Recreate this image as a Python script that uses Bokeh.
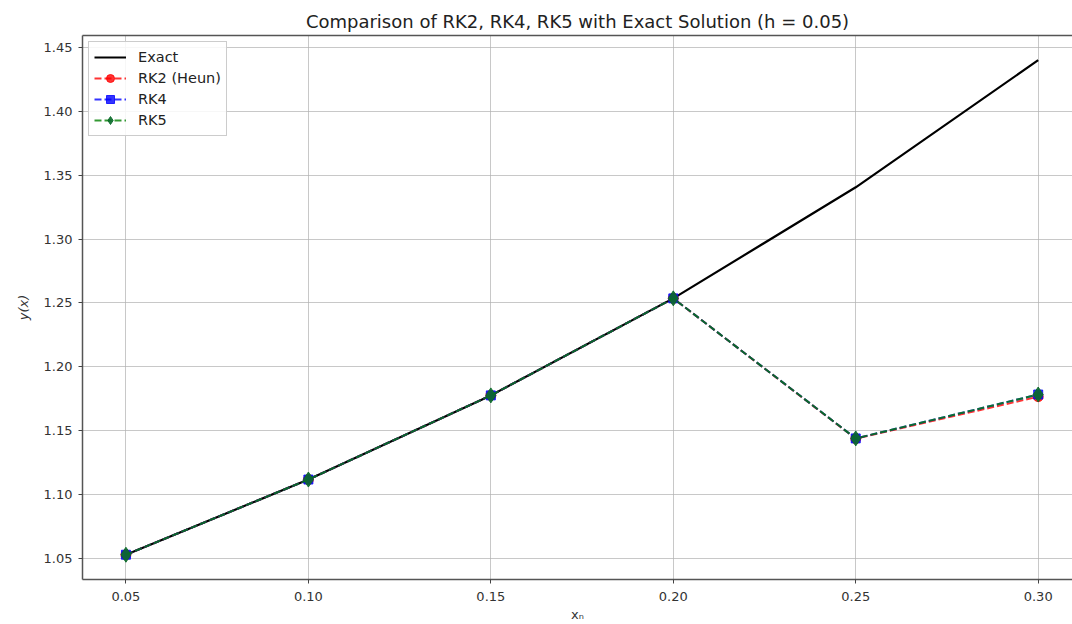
from bokeh.plotting import figure
from bokeh.models import Range1d, FixedTicker, NumeralTickFormatter, LinearAxis, Legend
from bokeh.embed import file_html
from bokeh.resources import INLINE

x_vals = [0.05, 0.10, 0.15, 0.20, 0.25, 0.30]
exact = [1.0527, 1.1116, 1.1775, 1.2535, 1.3405, 1.4401]
rk2 = [1.0527, 1.1116, 1.1775, 1.2535, 1.1436, 1.1765]
rk4 = [1.0527, 1.1116, 1.1775, 1.2535, 1.1438, 1.1782]
rk5 = [1.0527, 1.1116, 1.1775, 1.2535, 1.1438, 1.1782]
x_ticks = [0.05, 0.10, 0.15, 0.20, 0.25, 0.30]
y_ticks = [1.05, 1.10, 1.15, 1.20, 1.25, 1.30, 1.35, 1.40, 1.45]

FONT = "DejaVu Sans"

p = figure(width=1072, height=624, output_backend="svg", toolbar_location=None,
           x_range=Range1d(0.0381, 0.3094), y_range=Range1d(1.0333, 1.4594),
           min_border_left=82, min_border_right=0, min_border_top=35, min_border_bottom=45,
           title="Comparison of RK2, RK4, RK5 with Exact Solution (h = 0.05)")
p.outline_line_color = None
p.background_fill_color = "white"
p.border_fill_color = "white"

p.title.align = "center"
p.title.text_font = FONT
p.title.text_font_size = "18px"
p.title.text_font_style = "normal"
p.title.text_color = "#222222"
p.title.offset = 0
p.title.standoff = 8

for ax in (p.xaxis[0], p.yaxis[0]):
    ax.axis_line_color = "#555555"
    ax.axis_line_width = 1.5
    ax.major_tick_line_color = "#444444"
    ax.major_tick_in = 0
    ax.major_tick_out = 4
    ax.minor_tick_line_color = None
    ax.major_label_text_font = FONT
    ax.major_label_text_font_size = "13px"
    ax.major_label_text_color = "#333333"
    ax.axis_label_text_font = FONT
    ax.axis_label_text_font_size = "13px"
    ax.axis_label_text_font_style = "normal"
    ax.axis_label_text_color = "#333333"

p.xaxis.ticker = FixedTicker(ticks=x_ticks)
p.yaxis.ticker = FixedTicker(ticks=y_ticks)
p.xaxis.formatter = NumeralTickFormatter(format="0.00")
p.yaxis.formatter = NumeralTickFormatter(format="0.00")
p.xaxis.axis_label = "x\u2099"
p.yaxis.axis_label = "y(x)"
p.yaxis.axis_label_text_font_style = "italic"
p.xaxis.major_label_standoff = 8
p.yaxis.major_label_standoff = 6
p.xaxis.axis_label_standoff = 3
p.yaxis.axis_label_standoff = 10

top = LinearAxis(ticker=FixedTicker(ticks=[]), major_label_text_font_size="0px",
                 axis_line_color="#555555", axis_line_width=1.5,
                 major_tick_line_color=None, minor_tick_line_color=None)
p.add_layout(top, "above")

p.xgrid.grid_line_color = "#b0b0b0"
p.ygrid.grid_line_color = "#b0b0b0"
p.xgrid.grid_line_alpha = 0.7
p.ygrid.grid_line_alpha = 0.7

items = []
r0 = p.line(x_vals, exact, line_color="black", line_width=2.2)
items.append(("Exact", [r0]))

a = 0.8
l2 = p.line(x_vals, rk2, line_color="red", line_width=2, line_dash="7 3", line_alpha=a)
m2 = p.scatter(x_vals, rk2, marker="circle", size=10, fill_color="red", line_color="red", fill_alpha=a, line_alpha=a)
items.append(("RK2 (Heun)", [l2, m2]))
l4 = p.line(x_vals, rk4, line_color="blue", line_width=2, line_dash="7 3", line_alpha=a)
m4 = p.scatter(x_vals, rk4, marker="square", size=9, fill_color="blue", line_color="blue", fill_alpha=a, line_alpha=a)
items.append(("RK4", [l4, m4]))
l5 = p.line(x_vals, rk5, line_color="green", line_width=2, line_dash="7 3", line_alpha=a)
m5 = p.scatter(x_vals, rk5, marker="diamond", size=15, fill_color="#0a6a2a", line_color="#0a6a2a", fill_alpha=0.9, line_alpha=0.9)
items.append(("RK5", [l5, m5]))

legend = Legend(items=items, location="top_left")
legend.label_text_font = FONT
legend.label_text_font_size = "14.5px"
legend.label_text_color = "#222222"
legend.border_line_color = "#cccccc"
legend.border_line_alpha = 1.0
legend.background_fill_alpha = 0.85
legend.glyph_width = 32
legend.glyph_height = 20
legend.label_height = 20
legend.spacing = 1
legend.padding = 5
legend.margin = 6
legend.label_standoff = 12
p.add_layout(legend)

open("out.html", "w").write(file_html(p, INLINE))
